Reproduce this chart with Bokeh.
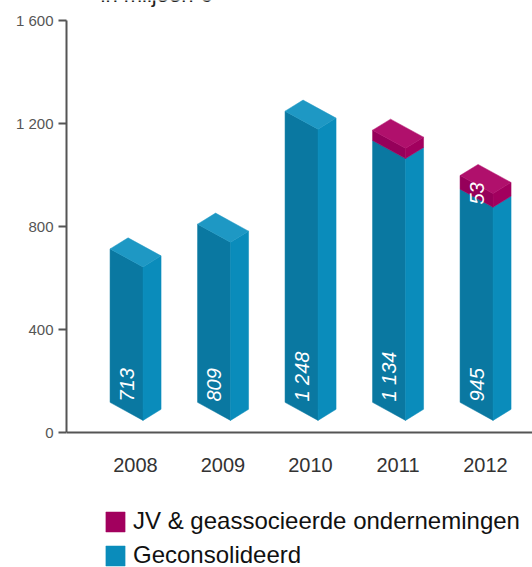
import math
from bokeh.plotting import figure
from bokeh.models import (ColumnDataSource, FixedTicker, Range1d, Legend, LegendItem, Label)
from bokeh.core.properties import value
from bokeh.embed import file_html
from bokeh.resources import INLINE

# ---- data ----
years = ["2008", "2009", "2010", "2011", "2012"]
geconsolideerd = [713, 809, 1248, 1134, 945]
jv = [0, 0, 0, 40, 53]
y_ticks = [0, 400, 800, 1200, 1600]
y_tick_labels = ["0", "400", "800", "1 200", "1 600"]
series_names = ["JV & geassocieerde ondernemingen", "Geconsolideerd"]
unit_title = "in miljoen €"

FONT = "Liberation Sans"
BLUE_FRONT, BLUE_SIDE, BLUE_TOP = "#0a78a1", "#0a8cbb", "#1e98c4"
PUR_FRONT, PUR_SIDE, PUR_TOP = "#96005a", "#a2005e", "#b0106c"

# 3D geometry (data units)
FW, SW = 0.377, 0.206     # front / side widths
DF, DS = 70.0, 43.0       # vertical skew of front / side
BASE = 117.0              # bars float slightly above the axis

Y_LOW = -524.3   # room below the axis for year labels and legend
Y_HIGH = 1677.7  # room above the axis top for the (cut-off) unit title

p = figure(width=532, height=567, output_backend="svg", toolbar_location=None,
           x_range=Range1d(-0.7886, 4.537), y_range=Range1d(Y_LOW, Y_HIGH),
           min_border_left=66, min_border_top=0, min_border_right=0, min_border_bottom=0)
p.outline_line_color = None
p.grid.visible = False
p.background_fill_color = "white"
p.border_fill_color = "white"

def faces(b, t, i):
    # b, t: level of the front face's left edge (bottom / top)
    x1 = i + 0.086
    x0 = x1 - FW
    x2 = x1 + SW
    front = ([x0, x1, x1, x0], [b, b - DF, t - DF, t])
    side = ([x1, x2, x2, x1], [b - DF, b - DF + DS, t - DF + DS, t - DF])
    top = ([x0, x1, x2, x0 + SW], [t, t - DF, t - DF + DS, t + DS])
    return front, side, top

groups = {k: {"xs": [], "ys": []} for k in
          ["bf", "bs", "bt", "pf", "ps", "pt"]}
for i, (g, j) in enumerate(zip(geconsolideerd, jv)):
    f, s, tp = faces(BASE, g, i)
    groups["bf"]["xs"].append(f[0]); groups["bf"]["ys"].append(f[1])
    groups["bs"]["xs"].append(s[0]); groups["bs"]["ys"].append(s[1])
    if j > 0:
        f2, s2, tp2 = faces(g, g + j, i)
        groups["pf"]["xs"].append(f2[0]); groups["pf"]["ys"].append(f2[1])
        groups["ps"]["xs"].append(s2[0]); groups["ps"]["ys"].append(s2[1])
        groups["pt"]["xs"].append(tp2[0]); groups["pt"]["ys"].append(tp2[1])
    else:
        groups["bt"]["xs"].append(tp[0]); groups["bt"]["ys"].append(tp[1])

rend = {}
for key, col in [("bf", BLUE_FRONT), ("bs", BLUE_SIDE), ("bt", BLUE_TOP),
                 ("pf", PUR_FRONT), ("ps", PUR_SIDE), ("pt", PUR_TOP)]:
    rend[key] = p.patches("xs", "ys", source=ColumnDataSource(groups[key]),
                          fill_color=col, line_color=col, line_width=0.5)

# value labels (rotated, italic, white)
xs_lab = [i + 0.086 - FW / 2 for i in range(len(years))]
lab_src = ColumnDataSource(dict(
    x=xs_lab, y=[BASE - DF / 2 + 38] * len(years),
    text=[f"{v:,}".replace(",", " ") for v in geconsolideerd]))
p.text("x", "y", text="text", source=lab_src, angle=math.pi / 2,
       text_align="left", text_baseline="middle", text_color="white",
       text_font=value(FONT), text_font_style="italic", text_font_size="20px")

jv_idx = [i for i, j in enumerate(jv) if j > 0 and i == len(jv) - 1]
jv_src = ColumnDataSource(dict(
    x=[xs_lab[i] for i in jv_idx],
    y=[geconsolideerd[i] + jv[i] / 2 - DF / 2 - 8 for i in jv_idx],
    text=[str(jv[i]) for i in jv_idx]))
p.text("x", "y", text="text", source=jv_src, angle=math.pi / 2,
       text_align="center", text_baseline="middle", text_color="white",
       text_font=value(FONT), text_font_style="italic", text_font_size="20px")

# axes
yax = p.yaxis[0]
yax.ticker = FixedTicker(ticks=y_ticks)
yax.bounds = (0, 1600)
yax.major_label_overrides = {t: l for t, l in zip(y_ticks, y_tick_labels)}
yax.minor_tick_line_color = None
yax.major_tick_in = 0
yax.major_tick_out = 8
yax.major_label_standoff = 5
yax.axis_line_color = "#555555"
yax.axis_line_width = 2
yax.major_tick_line_color = "#555555"
yax.major_tick_line_width = 2
yax.major_label_text_font = FONT
yax.major_label_text_font_size = "15px"
yax.major_label_text_color = "#555555"

xax = p.xaxis[0]
xax.fixed_location = 0
xax.ticker = FixedTicker(ticks=list(range(len(years))))
xax.major_label_overrides = {i: y for i, y in enumerate(years)}
xax.minor_tick_line_color = None
xax.major_tick_line_color = None
xax.major_label_standoff = 20
xax.axis_line_color = "#555555"
xax.axis_line_width = 2
xax.major_label_text_font = FONT
xax.major_label_text_font_size = "20px"
xax.major_label_text_color = "#333333"

# legend (uses the side-face renderers, whose colours match the legend swatches)
legend = Legend(items=[LegendItem(label=series_names[0], renderers=[rend["ps"]]),
                       LegendItem(label=series_names[1], renderers=[rend["bs"]])],
                location=(37, -2), orientation="vertical",
                glyph_width=24, glyph_height=25, label_standoff=6, spacing=6,
                padding=0, margin=0, border_line_color=None,
                background_fill_alpha=0,
                label_text_font=FONT, label_text_font_size="24px",
                label_text_color="#111111")
p.add_layout(legend)

# unit title, cut off at the top edge as in the reference
p.add_layout(Label(x=34, y=561, x_units="screen", y_units="screen",
                   text=unit_title, text_font=FONT, text_font_size="22px",
                   text_color="#222222"))

open("out.html", "w").write(file_html(p, INLINE))
